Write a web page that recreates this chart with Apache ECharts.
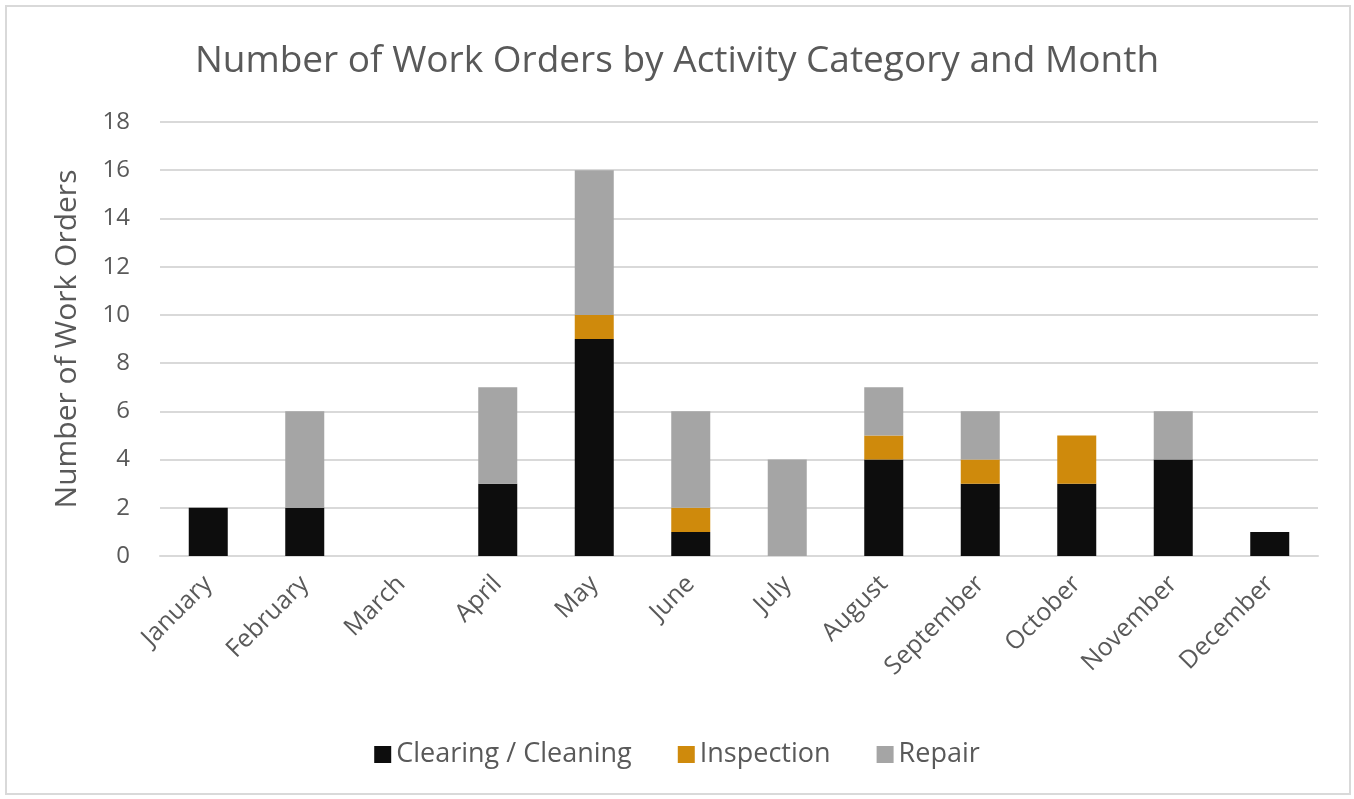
<!DOCTYPE html>
<html>
<head>
<meta charset="utf-8">
<script src="https://cdn.jsdelivr.net/npm/echarts@6/dist/echarts.min.js"></script>
<style>
  body { margin: 0; background: #fff; }
  #chart { width: 1354px; height: 799px; }
</style>
</head>
<body>
<div id="chart"></div>
<script>
var months = ['January', 'February', 'March', 'April', 'May', 'June', 'July', 'August', 'September', 'October', 'November', 'December'];
var clearing = [2, 2, 0, 3, 9, 1, 0, 4, 3, 3, 4, 1];
var inspection = [0, 0, 0, 0, 1, 1, 0, 1, 1, 2, 0, 0];
var repair = [0, 4, 0, 4, 6, 4, 4, 2, 2, 0, 2, 0];

var font = '"Open Sans", "Noto Sans", sans-serif';
var textColor = '#595959';

var chart = echarts.init(document.getElementById('chart'));

function bar(name, data, color) {
    return {
        name: name,
        type: 'bar',
        stack: 'total',
        barWidth: 39,
        data: data,
        itemStyle: { color: color }
    };
}

var option = {
    animation: false,
    textStyle: { fontFamily: font },
    graphic: [{
        type: 'rect',
        shape: { x: 6, y: 6, width: 1344, height: 788 },
        style: { fill: 'none', stroke: '#d9d9d9', lineWidth: 2 }
    }],
    title: {
        text: 'Number of Work Orders by Activity Category and Month',
        left: 'center',
        top: 38,
        textStyle: { fontFamily: font, fontSize: 37, fontWeight: 'normal', color: textColor }
    },
    legend: {
        bottom: 26,
        left: 'center',
        itemWidth: 17,
        itemHeight: 17,
        itemGap: 46,
        icon: 'rect',
        textStyle: { fontFamily: font, fontSize: 27, color: textColor },
        data: ['Clearing / Cleaning', 'Inspection', 'Repair']
    },
    grid: { left: 160, right: 36, top: 122, bottom: 243 },
    xAxis: {
        type: 'category',
        data: months,
        axisLine: { lineStyle: { color: '#d9d9d9', width: 2 } },
        axisTick: { show: false },
        axisLabel: { rotate: 45, fontSize: 25, color: textColor, fontFamily: font, margin: 24 }
    },
    yAxis: {
        type: 'value',
        min: 0,
        max: 18,
        interval: 2,
        name: 'Number of Work Orders',
        nameLocation: 'middle',
        nameGap: 78,
        nameTextStyle: { fontSize: 30, color: textColor, fontFamily: font },
        axisLabel: { fontSize: 24, color: textColor, fontFamily: font, margin: 30 },
        splitLine: { lineStyle: { color: '#d9d9d9', width: 2 } }
    },
    series: [
        bar('Clearing / Cleaning', clearing, '#0d0d0d'),
        bar('Inspection', inspection, '#cf8a0c'),
        bar('Repair', repair, '#a5a5a5')
    ]
};
chart.setOption(option);
</script>
</body>
</html>
